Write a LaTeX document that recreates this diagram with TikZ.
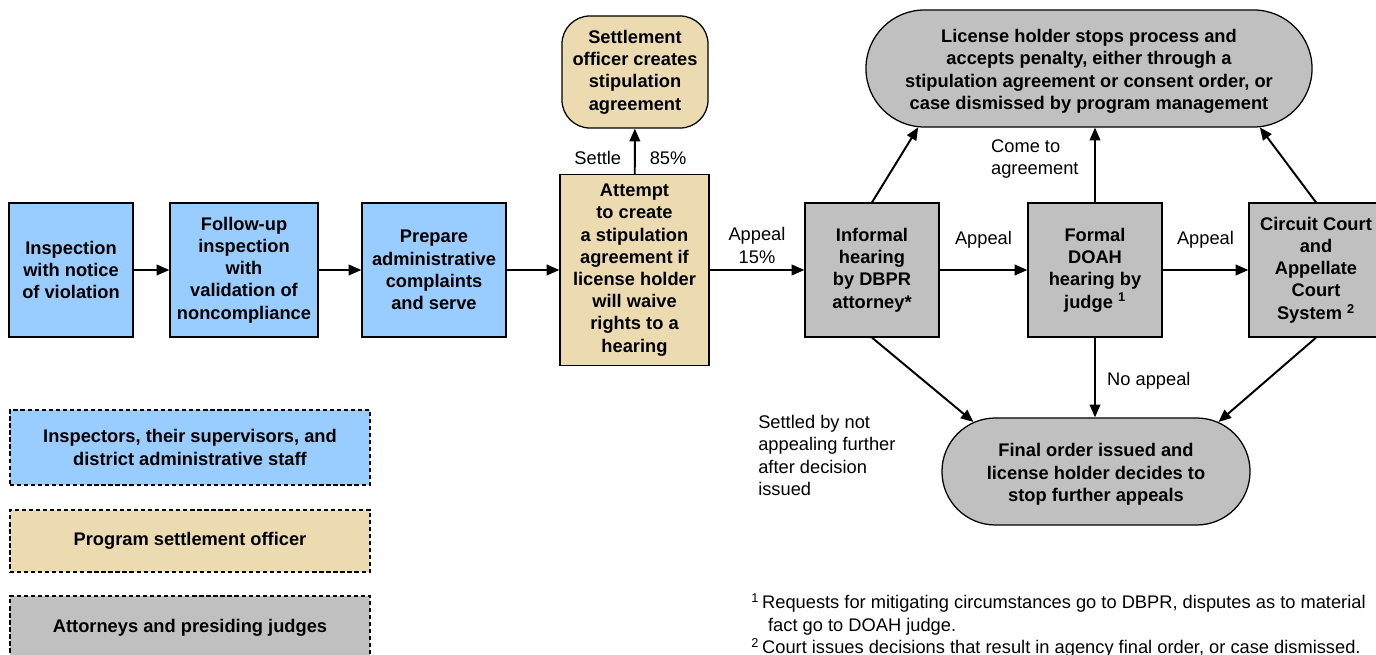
\documentclass[tikz,border=0pt]{standalone}
\usepackage{fontspec}
\setmainfont{Liberation Sans}
\usetikzlibrary{arrows.meta,shapes.misc}
\definecolor{inspblue}{RGB}{153,204,255}
\definecolor{settletan}{RGB}{236,219,176}
\definecolor{judgegray}{RGB}{192,192,192}

\begin{document}
\begin{tikzpicture}[x=0.025cm,y=-0.025cm,
    box/.style={draw, line width=0.9pt, align=center, inner sep=0pt,
        font=\fontsize{13}{15.8}\selectfont\bfseries},
    bluebox/.style={box, fill=inspblue},
    tanbox/.style={box, fill=settletan},
    graybox/.style={box, fill=judgegray},
    legbox/.style={box, dashed, dash pattern=on 3pt off 2pt, minimum width=9cm},
    lbl/.style={inner sep=0pt, font=\fontsize{13}{15.8}\selectfont},
    arr/.style={line width=1.4pt, -{Triangle[length=9pt,width=7.5pt]}}]

            \useasboundingbox (0,0) rectangle (1376,655);
            \clip (0,0) rectangle (1376,655);

            \node[bluebox, minimum width=3.1cm, minimum height=3.35cm] (insp) at (71,270) {Inspection\\with notice\\of violation};
            \node[bluebox, minimum width=3.7cm, minimum height=3.35cm] (follow) at (244,270) {Follow-up\\inspection\\with\\validation of\\noncompliance};
            \node[bluebox, minimum width=3.6cm, minimum height=3.35cm] (prep) at (434,270) {Prepare\\administrative\\complaints\\and serve};
            \node[tanbox, minimum width=3.725cm, minimum height=4.775cm] (attempt) at (634.5,270) {Attempt\\to create\\a stipulation\\agreement if\\license holder\\will waive\\rights to a\\hearing};
            \node[tanbox, rounded corners=0.7cm, minimum width=3.65cm, minimum height=2.8cm] (stip) at (635,72) {Settlement\\officer creates\\stipulation\\agreement};
            \node[graybox, minimum width=3.35cm, minimum height=3.35cm] (informal) at (872,270) {Informal\\hearing\\by DBPR\\attorney*};
            \node[graybox, minimum width=3.35cm, minimum height=3.35cm] (formal) at (1095,270) {Formal\\DOAH\\hearing by\\judge \textsuperscript{1}};
            \node[graybox, minimum width=3.35cm, minimum height=3.35cm] (court) at (1316,270) {Circuit Court\\and\\Appellate\\Court\\System \textsuperscript{2}};
            \node[graybox, rounded rectangle, minimum width=11.15cm, minimum height=2.925cm] (accept) at (1089,68.5) {\raisebox{-5pt}[0pt][0pt]{\parbox{10.5cm}{\centering License holder stops process and\\accepts penalty, either through a\\stipulation agreement or consent order, or\\case dismissed by program management}}};
            \node[graybox, rounded rectangle, minimum width=7.7cm, minimum height=2.675cm] (final) at (1096,471.5) {\raisebox{-5pt}[0pt][0pt]{\parbox{7cm}{\centering Final order issued and\\license holder decides to\\stop further appeals}}};

            \draw[arr] (insp) -- (follow);
            \draw[arr] (follow) -- (prep);
            \draw[arr] (prep) -- (attempt);
            \draw[arr] (attempt) -- node[lbl, above=4pt, align=center] (appeal1) {Appeal\\15\%} (informal);
            \draw[arr] (attempt) -- node[lbl, pos=0.35, left=9pt] (settle) {Settle} node[lbl, pos=0.35, right=10pt] (pct) {85\%} (stip);
            \draw[arr] (informal) -- node[lbl, above=15pt] (appeal2) {Appeal} (formal);
            \draw[arr] (formal) -- node[lbl, above=15pt] (appeal3) {Appeal} (court);
            \draw[arr] (informal.north) -- (accept.199);
            \draw[arr] (formal.north) -- node[lbl, pos=0.58, left=11pt, align=left] (agree) {Come to\\agreement} (accept.south -| formal.north);
            \draw[arr] (court.north) -- (accept.-19);
            \draw[arr] (informal.south) -- (final.158);
            \draw[arr] (formal.south) -- node[lbl, pos=0.54, right=8pt] (noapp) {No appeal} (final.north -| formal.south);
            \draw[arr] (court.south) -- (final.22);

            \node[lbl, anchor=west, align=left] (settled) at (758,455.5) {Settled by not\\appealing further\\after decision\\issued};

            \node[legbox, fill=inspblue, minimum height=1.875cm] (legblue) at (190,447.5) {Inspectors, their supervisors, and\\district administrative staff};
            \node[legbox, fill=settletan, minimum height=1.55cm] (legtan) at (190,541) {Program settlement officer};
            \node[legbox, fill=judgegray, minimum height=1.6cm] (leggray) at (190,628) {Attorneys and presiding judges};

            \node[inner sep=0pt, anchor=west, align=left, font=\fontsize{13}{16}\selectfont] (notes) at (751,625.5) {\textsuperscript{1}\,Requests for mitigating circumstances go to DBPR, disputes as to material\\\hspace*{12pt}fact go to DOAH judge.\\\textsuperscript{2}\,Court issues decisions that result in agency final order, or case dismissed.};
        \end{tikzpicture}
\end{document}
